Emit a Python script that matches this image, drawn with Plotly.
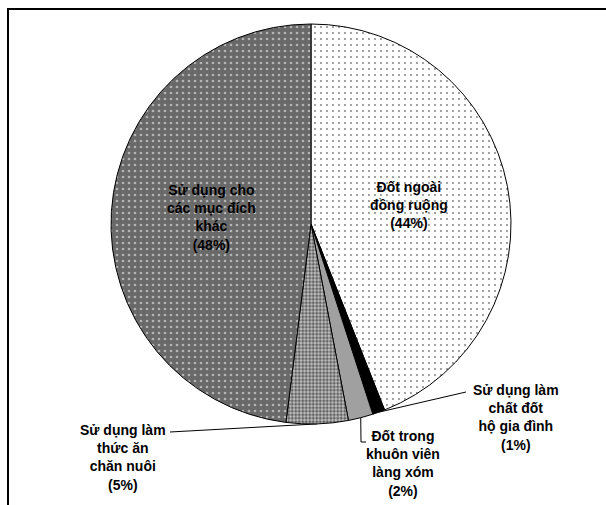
import math
import plotly.graph_objects as go

# Shares of rice straw use (%), clockwise from 12 o'clock
labels = [
    "Đốt ngoài<br>đồng ruộng",
    "Sử dụng làm<br>chất đốt<br>hộ gia đình",
    "Đốt trong<br>khuôn viên<br>làng xóm",
    "Sử dụng làm<br>thức ăn<br>chăn nuôi",
    "Sử dụng cho<br>các mục đích<br>khác",
]
values = [44, 1, 2, 5, 48]
inside = [True, False, False, False, True]

# Slice fills
fill_colors = ["white", "black", "#a0a0a0", "#c4c4c4", "#696969"]
pattern_shapes = [".", "", "", ".", "."]
pattern_fg = ["black", "black", "black", "black", "white"]
pattern_size = [6, 6, 6, 3.5, 6]
pattern_solidity = [0.08, 0.3, 0.3, 0.55, 0.16]

W, H = 606, 505
CX, CY, R = 311, 224, 200

fig = go.Figure()

fig.add_trace(go.Pie(
    labels=[l.replace("<br>", " ") for l in labels],
    values=values,
    sort=False,
    direction="clockwise",
    rotation=0,
    textinfo="none",
    hoverinfo="label+percent",
    showlegend=False,
    marker=dict(
        colors=fill_colors,
        line=dict(color="black", width=1),
        pattern=dict(
            shape=pattern_shapes,
            fgcolor=pattern_fg,
            bgcolor=fill_colors,
            size=pattern_size,
            solidity=pattern_solidity,
            fillmode="overlay",
        ),
    ),
    domain=dict(
        x=[(CX - R) / W, (CX + R) / W],
        y=[1 - (CY + R) / H, 1 - (CY - R) / H],
    ),
))


def point_at(frac, r):
    """Pixel position at a cumulative fraction of the circle, radius r."""
    a = 2 * math.pi * frac
    return CX + r * math.sin(a), CY - r * math.cos(a)


total = sum(values)
cum = 0
mids = []
for v in values:
    mids.append((cum + v / 2) / total)
    cum += v

font = dict(family="Arial, Liberation Sans, sans-serif", size=14, color="black")
annotations = []

# Labels placed inside their slices
for lab, v, m, ins in zip(labels, values, mids, inside):
    if ins:
        x, y = point_at(m, R * 0.5)
        annotations.append(dict(
            x=x, y=y, xref="x", yref="y", showarrow=False,
            text=f"<b>{lab}<br>({v}%)</b>", font=font, align="center",
        ))

# Outside labels: text anchor and leader line path (elbow points)
outside = {
    1: dict(text_xy=(516, 417), path=[(466, 392)]),
    2: dict(text_xy=(403, 463), path=[(361, 442), (366, 442)]),
    3: dict(text_xy=(123, 457), path=[(170, 432)]),
}
for i, spec in outside.items():
    ex, ey = point_at(mids[i], R)
    xs = [ex] + [p[0] for p in spec["path"]]
    ys = [ey] + [p[1] for p in spec["path"]]
    fig.add_trace(go.Scatter(
        x=xs, y=ys, mode="lines", line=dict(color="black", width=1),
        hoverinfo="skip", showlegend=False,
    ))
    tx, ty = spec["text_xy"]
    annotations.append(dict(
        x=tx, y=ty, xref="x", yref="y", showarrow=False,
        text=f"<b>{labels[i]}<br>({values[i]}%)</b>", font=font, align="center",
    ))

fig.update_layout(
    width=W, height=H,
    margin=dict(l=0, r=0, t=0, b=0),
    paper_bgcolor="white", plot_bgcolor="rgba(0,0,0,0)",
    xaxis=dict(range=[0, W], visible=False, fixedrange=True, domain=[0, 1]),
    yaxis=dict(range=[H, 0], visible=False, fixedrange=True, domain=[0, 1]),
    annotations=annotations,
    shapes=[dict(
        type="rect", xref="paper", yref="paper",
        x0=8 / W, x1=1.05, y0=-0.05, y1=1 - 9 / H,
        line=dict(color="black", width=2),
    )],
)

fig.write_html("out.html")
